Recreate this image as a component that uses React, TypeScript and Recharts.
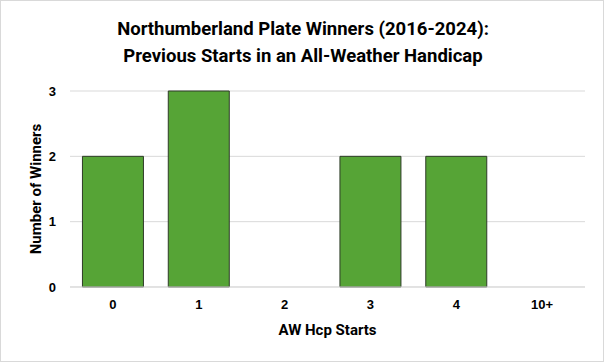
import React from "react"
import { BarChart, Bar, XAxis, YAxis, CartesianGrid } from "recharts"

const starts = ["0", "1", "2", "3", "4", "10+"]
const winners = [2, 3, 0, 2, 2, 0]
const yTicks = [0, 1, 2, 3]

const data = starts.map((s, i) => ({ starts: s, winners: winners[i] }))

const narrow = "Roboto, 'Liberation Sans', sans-serif"
const plain = "'Liberation Sans', Arial, sans-serif"

export default function App() {
  return (
    <div
      style={{
        position: "fixed",
        top: 0,
        left: 0,
        width: 604,
        height: 362,
        background: "#fff",
        boxSizing: "border-box",
        border: "1px solid #d9d9d9",
      }}
    >
      <div
        style={{
          position: "absolute",
          top: 15,
          left: 0,
          width: 604,
          textAlign: "center",
          fontFamily: narrow,
          fontWeight: "bold",
          fontSize: 18.5,
          lineHeight: "27px",
          color: "#000",
        }}
      >
        Northumberland Plate Winners (2016-2024):
        <br />
        Previous Starts in an All-Weather Handicap
      </div>
      <div style={{ position: "absolute", top: -1, left: -1 }}>
        <BarChart
          width={604}
          height={362}
          data={data}
          margin={{ top: 91, right: 19, bottom: 28, left: 28 }}
          barCategoryGap="14.5%"
        >
          <CartesianGrid vertical={false} stroke="#d9d9d9" />
          <XAxis
            dataKey="starts"
            axisLine={{ stroke: "#d9d9d9" }}
            tickLine={false}
            height={47}
            tick={{ fill: "#000", fontSize: 13, fontWeight: "bold", fontFamily: plain }}
            tickMargin={7}
            label={{
              value: "AW Hcp Starts",
              position: "insideBottom",
              offset: -1,
              style: { fill: "#000", fontSize: 15, fontWeight: "bold", fontFamily: narrow },
            }}
          />
          <YAxis
            domain={[0, 3]}
            ticks={yTicks}
            axisLine={false}
            tickLine={false}
            width={42}
            tick={{ fill: "#000", fontSize: 13, fontWeight: "bold", fontFamily: plain }}
            tickMargin={8}
            label={{
              value: "Number of Winners",
              angle: -90,
              position: "insideLeft",
              offset: 8,
              style: { textAnchor: "middle", fill: "#000", fontSize: 15, fontWeight: "bold", fontFamily: narrow },
            }}
          />
          <Bar
            dataKey="winners"
            fill="#56a436"
            stroke="#2e3b28"
            strokeWidth={1}
            isAnimationActive={false}
          />
        </BarChart>
      </div>
    </div>
  )
}
